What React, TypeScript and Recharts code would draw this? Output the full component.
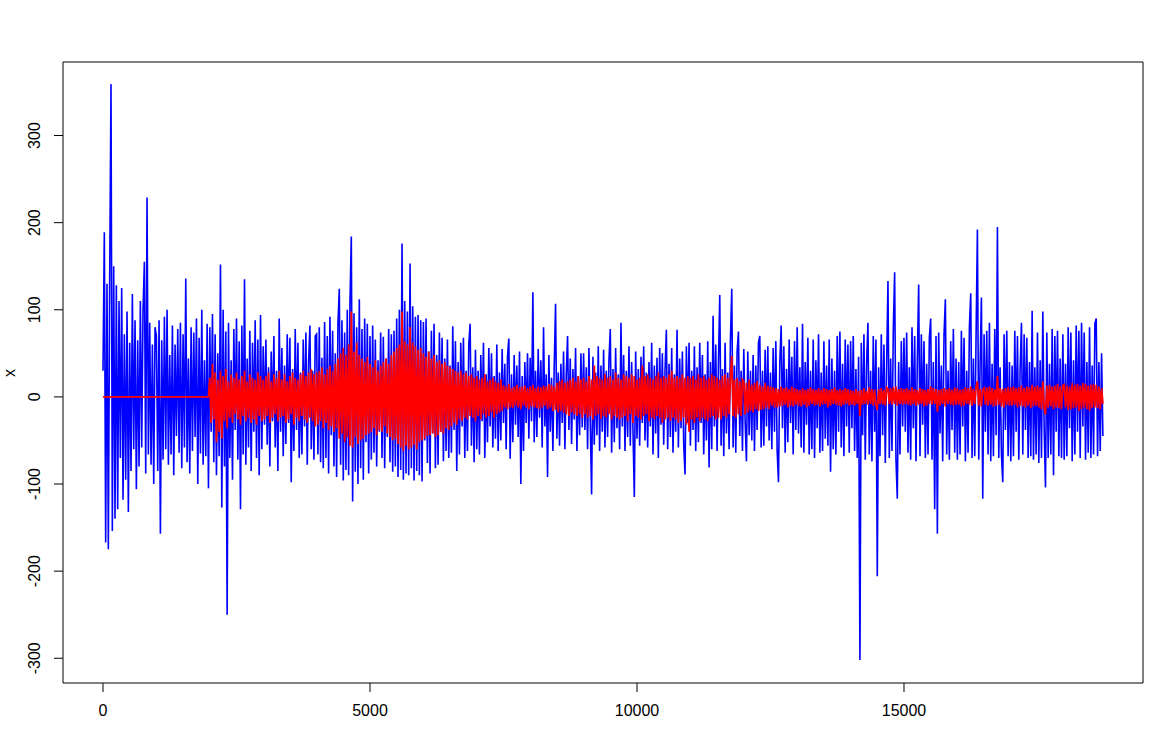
import React from "react";
import { LineChart, Line, XAxis, YAxis, ReferenceArea } from "recharts";

// Each row holds one reading every 25 index steps, a row covers 1000 steps.
const STEP = 25;
const ROW_SPAN = 1000;

const xTicks = [0, 5000, 10000, 15000];
const yTicks = [-300, -200, -100, 0, 100, 200, 300];

const blueRows: number[][] = [
  [30, 189, -167, 130, -175, 132, 359, -154, 150, -140, 128, -129, 110, -70, 125, -118, 72, -95, 98, -132, 62, -85, 118, -60, 88, -106, 65, -80, 110, -58, 100, 155, -88, 229, -66, 85, -78, 60, -100, 80],
  [70, -85, 88, -157, 65, -72, 92, -60, 100, -78, 48, -66, 82, -90, 60, -45, 78, -64, 85, -82, 72, -58, 136, -75, 44, -88, 80, -62, 74, -46, 90, -100, 68, -65, 100, -78, 42, -68, 84, -105],
  [80, -40, 95, -75, 72, -90, 50, -68, 152, -127, 100, -80, 75, -250, 85, -70, 42, -95, 78, -38, 90, -72, 64, -129, 82, -66, 135, -78, 44, -58, 76, -85, 62, -40, 88, -70, 66, -90, 94, -60],
  [58, -32, 66, -55, 34, -80, 52, -28, 70, -58, 30, -85, 90, -40, 56, -68, 36, -54, 72, -30, 68, -98, 32, -62, 78, -38, 62, -70, 28, -66, 66, -34, 74, -78, 40, 82, -60, 30, -72, 70],
  [72, -66, 80, -75, 45, -82, 86, -70, 70, -88, 92, -44, 76, -80, 50, -92, 84, 124, -78, 88, -96, 74, -84, 100, -90, 108, 184, -120, 96, -86, 80, -100, 112, -82, 78, -95, 90, -52, 84, -88],
  [70, -72, 82, -64, 66, -80, 42, -40, 74, -70, 69, -82, 44, -46, 78, -75, 72, -86, 76, -80, 90, -92, 100, -84, 176, -95, 110, -88, 98, -90, 153, -82, 104, -96, 92, -85, 94, -90, 88, -97],
  [86, -50, 90, -76, 52, -88, 76, -42, 84, -82, 48, -78, 74, -40, 68, -74, 44, -62, 66, -70, 36, -64, 81, -38, 64, -85, 40, -66, 62, -34, 68, -70, 30, -62, 60, 84, -56, 34, -75, 54],
  [-60, 30, -66, 48, -28, 62, -70, 26, -52, 56, -34, 50, -58, 24, -48, 60, -62, 28, -50, 55, -30, 38, -60, 46, 67, -71, 26, -52, 48, -32, 36, -46, 52, -100, 24, -62, 40, -30, 50, -48],
  [45, -28, 120, -52, 30, -46, 55, -24, 42, -58, 80, -34, 26, -92, 48, -40, 22, -62, 35, 107, -48, 28, -56, 38, -30, 52, -60, 25, 70, -38, 44, -54, 32, -26, 56, -62, 24, -44, 50, -35],
  [50, -38, 34, -60, 56, -30, -112, 46, -55, 28, -44, 58, -62, 36, -40, 54, -58, 30, -46, 42, 78, -64, 32, -52, 56, -36, 26, -60, 85, -34, 48, -62, 30, -46, 58, -56, 40, -38, -115, 52],
  [-48, 32, -56, 46, -30, 58, -50, 28, -58, 40, -34, 62, -66, 36, -42, 45, -70, 56, -32, 50, -55, 30, 77, -60, 38, -46, 56, -64, 26, -40, 77, -58, 44, -36, 52, -55, -89, 58, -30, 62],
  [-56, 30, -38, 58, -62, 34, -52, 62, -30, 48, -66, 26, -50, 64, -81, 40, -60, 93, -34, 60, -62, 38, 117, -56, 32, -68, 62, -42, 28, -60, 66, 124, -58, 36, -64, 52, 75, -45, 30, -62],
  [55, -28, -74, 52, -44, 30, -50, 48, -62, 36, -38, 62, 70, -58, 30, -56, 54, -34, 58, -50, 28, -60, 56, -40, 64, -62, -98, 40, 82, -36, 58, -64, 32, -52, 66, -30, 46, -66, 64, -38],
  [80, -42, 34, -58, 84, -64, 40, -32, 68, -66, 30, -60, 66, -70, 42, -36, 72, -64, 28, -62, 64, -48, 36, -56, 66, -86, 44, -60, 30, -66, 70, -40, 75, -58, 38, -68, 66, -34, 60, -64],
  [64, -36, 70, -62, 32, -70, 46, -302, 62, -44, 72, -72, 38, 85, -66, 30, -74, 70, -40, 66, -206, 34, -68, 72, -44, 60, -76, 36, 133, -70, 44, -62, 78, 143, -72, -117, 40, -66, 64, -34],
  [68, -40, 74, -64, 34, -72, 80, -36, 70, -74, 42, 129, -68, 72, -32, 64, -70, 38, -66, 68, 90, -72, 40, -129, 70, -157, 74, -42, 36, -74, 72, 112, -66, 30, -72, 64, -38, 78, -64, 44],
  [-72, 40, -66, 76, -34, 68, -74, 30, -64, 80, 119, -70, 44, -68, 70, 192, -72, 36, 114, -117, 72, -40, 76, -66, 85, -74, 38, -68, 78, -44, 195, -70, 34, -66, -98, 72, -38, 76, -68, 40],
  [-74, 36, -68, 76, -40, 70, -72, 32, 85, -66, 72, -38, 68, -70, 40, -68, 99, -72, 34, -66, 74, -76, 42, -70, 98, -36, -104, 74, -70, 38, -66, 78, -90, 70, -40, 76, -68, 44, -70, 72],
  [-72, 38, -68, 80, -36, 74, -74, 42, -66, 82, -40, 76, -70, 85, -34, 74, -72, 40, -64, 80, -70, 36, -66, 84, 90, -68, 40, -62, 50, -45],
];

const redRows: number[][] = [
  [0, 0, 0, 0, 0, 0, 0, 0, 0, 0, 0, 0, 0, 0, 0, 0, 0, 0, 0, 0, 0, 0, 0, 0, 0, 0, 0, 0, 0, 0, 0, 0, 0, 0, 0, 0, 0, 0, 0, 0],
  [0, 0, 0, 0, 0, 0, 0, 0, 0, 0, 0, 0, 0, 0, 0, 0, 0, 0, 0, 0, 0, 0, 0, 0, 0, 0, 0, 0, 0, 0, 0, 0, 0, 0, 0, 0, 0, 0, 0, 0],
  [22, -30, 38, -26, 28, -52, 20, -40, 30, -48, 24, -28, 32, -36, 18, -24, 26, -30, 22, -20, 28, -26, 20, -32, 24, -22, 30, -28, 18, -24, 26, -30, 22, -26, 20, -32, 28, -22, 24, -28],
  [20, -26, 24, -22, 28, -30, 18, -24, 26, -20, 22, -28, 30, -24, 20, -22, 26, -30, 18, -26, 24, -20, 28, -32, 22, -24, 20, -28, 26, -22, 30, -26, 24, -30, 28, -24, 32, -28, 26, -34],
  [28, -32, 30, -28, 34, -36, 26, -30, 32, -38, 36, -34, 30, -40, 38, -36, 44, -48, 50, -42, 56, -52, 48, -46, 60, -56, 98, -58, 52, -46, 62, -54, 48, -50, 44, -48, 40, -44, 46, -42],
  [38, -40, 34, -36, 42, -44, 30, -38, 36, -40, 40, -34, 44, -42, 38, -46, 48, -50, 52, -48, 56, -54, 60, -58, 98, -62, 64, -56, 60, -60, 80, -58, 62, -55, 58, -60, 54, -52, 56, -50],
  [50, -48, 46, -45, 52, -44, 44, -42, 48, -46, 40, -44, 42, -40, 38, -42, 40, -36, 36, -38, 34, -34, 32, -30, 30, -32, 28, -26, 30, -28, 26, -24, 28, -26, 24, -22, 26, -24, 22, -28],
  [24, -22, 20, -26, 22, -20, 26, -24, 18, -22, 20, -18, 22, -24, 18, -20, 16, -18, 20, -16, 14, -12, 12, -14, 15, -12, 10, -13, 12, -10, 14, -12, 11, -14, 12, -10, 13, -12, 10, -14],
  [12, -11, 14, -12, 10, -13, 12, -14, 11, -12, 13, -10, 12, -14, 15, -12, 14, -16, 12, -15, 16, -18, 18, -16, 20, -18, 16, -20, 18, -22, 20, -18, 22, -20, 18, -22, 24, -20, 20, -24],
  [22, -20, 18, -24, 24, -22, 20, -26, 36, -22, 24, -20, 22, -25, 20, -22, 26, -24, 22, -20, 24, -26, 20, -22, 28, -24, 22, -26, 20, -24, 26, -22, 24, -28, 22, -20, 26, -30, 24, -22],
  [20, -24, 22, -26, 36, -22, 24, -20, 26, -28, 22, -24, 20, -26, 24, -22, 28, -24, 22, -30, 24, -26, 22, -24, 26, -28, 30, -24, 22, -26, 24, -30, 22, -28, 26, -24, 22, -32, 24, -40],
  [22, -26, 24, -30, 20, -24, 26, -28, 22, -24, 24, -26, 20, -28, 22, -24, 26, -22, 24, -26, 22, -24, 20, -26, 24, -22, 26, -24, 22, -20, 24, 47, -22, 20, -24, 22, -20, 18, -22, 20],
  [18, -20, 16, -18, 20, -16, 14, -18, 16, -14, 18, -16, 14, -15, 12, -14, 16, -12, 13, -14, 12, -10, 11, -12, 10, -12, 9, -11, 12, -10, 10, -9, 11, -12, 9, -10, 12, -11, 10, -9],
  [9, -10, 8, -11, 10, -9, 8, -12, 9, -10, 11, -8, 9, -10, 8, -9, 10, -11, 8, -9, 10, -8, 9, -12, 8, -10, 9, -8, 11, -9, 8, -10, 9, -11, 8, -9, 10, -8, 9, -10],
  [8, -9, 7, -10, 9, -8, 7, -22, 8, -9, 10, -8, 7, -9, 11, -8, 9, -10, 8, -9, -15, 9, -8, 10, -9, 8, -10, 11, 9, -8, 10, -9, 11, -8, 12, -10, 9, -8, 10, -9],
  [9, -8, 10, -9, 8, -10, 11, -8, 9, -10, 8, -9, 10, -8, 9, -11, 8, -10, 9, -8, 12, -9, 10, -8, 9, -17, 8, -10, 9, -8, 10, -11, 9, -8, 10, -9, 8, -10, 11, -9],
  [10, -9, 8, -11, 9, -10, 11, -8, 10, -9, 12, -10, 9, -8, 11, 18, -10, 9, -11, 8, 10, -9, 11, -10, 12, -9, 10, -11, 9, -10, 24, -9, 10, -11, 9, -12, 10, -9, 11, -10],
  [11, -10, 12, -9, 10, -12, 11, -10, 13, -11, 10, -12, 12, -10, 11, -13, 14, -11, 12, -10, 13, -12, 11, -14, 18, -12, -20, 13, -12, 14, -11, 12, -14, 13, -12, 15, -13, 12, -14, 13],
  [14, -12, 13, -15, 12, -14, 16, -13, 14, -12, 15, -16, 13, -14, 16, -12, 15, -14, 13, -16, 14, -13, 15, -12, 14, -13, 12, -14, 10, -8],
];

type Point = { x: number; blue?: number; red?: number };

function buildData(): Point[] {
  const byX = new Map<number, Point>();
  const put = (rows: number[][], key: "blue" | "red") => {
    rows.forEach((row, r) => {
      row.forEach((v, j) => {
        const x = r * ROW_SPAN + j * STEP;
        const p = byX.get(x) ?? { x };
        p[key] = v;
        byX.set(x, p);
      });
    });
  };
  put(blueRows, "blue");
  put(redRows, "red");
  return Array.from(byX.values()).sort((a, b) => a.x - b.x);
}

const data = buildData();

const FONT = "'Liberation Sans', Arial, sans-serif";
const X_DOMAIN: [number, number] = [-749, 19476];
const Y_DOMAIN: [number, number] = [-328.4, 384.4];

function YTick(props: any) {
  const { x, y, payload } = props;
  return (
    <text
      x={x}
      y={y}
      transform={`rotate(-90 ${x} ${y})`}
      textAnchor="middle"
      fontSize={16}
      fontFamily={FONT}
      fill="#000"
    >
      {payload.value}
    </text>
  );
}

export default function App() {
  return (
    <div
      style={{
        position: "absolute",
        left: 0,
        top: 0,
        width: 1164,
        height: 735,
        background: "#fff",
        overflow: "hidden",
      }}
    >
      <LineChart
        width={1164}
        height={735}
        data={data}
        margin={{ top: 62, right: 21, bottom: 0, left: 0 }}
      >
        <XAxis
          dataKey="x"
          type="number"
          domain={X_DOMAIN}
          allowDataOverflow
          ticks={xTicks}
          height={52}
          axisLine={false}
          tickLine={{ stroke: "#000" }}
          tickSize={9}
          tickMargin={13}
          tick={{ fontSize: 16, fontFamily: FONT, fill: "#000" }}
        />
        <YAxis
          type="number"
          domain={Y_DOMAIN}
          allowDataOverflow
          ticks={yTicks}
          width={63}
          axisLine={false}
          tickLine={{ stroke: "#000" }}
          tickSize={9}
          tickMargin={14}
          tick={YTick}
        />
        <Line
          type="linear"
          dataKey="blue"
          stroke="#0000ff"
          strokeWidth={1.6}
          dot={false}
          activeDot={false}
          connectNulls
          isAnimationActive={false}
        />
        <Line
          type="linear"
          dataKey="red"
          stroke="#ff0000"
          strokeWidth={1.8}
          dot={false}
          activeDot={false}
          connectNulls
          isAnimationActive={false}
        />
        <ReferenceArea
          x1={X_DOMAIN[0]}
          x2={X_DOMAIN[1]}
          y1={Y_DOMAIN[0]}
          y2={Y_DOMAIN[1]}
          fill="none"
          stroke="#000"
          strokeWidth={1}
          ifOverflow="visible"
        />
      </LineChart>
      <svg
        width={1164}
        height={735}
        style={{ position: "absolute", left: 0, top: 0, pointerEvents: "none" }}
      >
        <text
          x={15}
          y={373}
          transform="rotate(-90 15 373)"
          textAnchor="middle"
          fontSize={16}
          fontFamily={FONT}
          fill="#000"
        >
          x
        </text>
      </svg>
    </div>
  );
}
